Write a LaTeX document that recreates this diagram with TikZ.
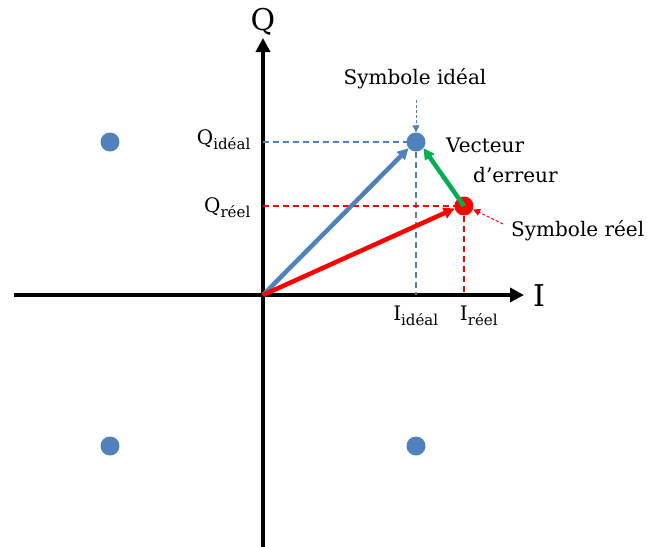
\documentclass[tikz,border=0pt]{standalone}
\usepackage{fontspec}
\setmainfont{DejaVu Serif}
\usetikzlibrary{arrows.meta}
\definecolor{ublue}{RGB}{79,129,189}
\definecolor{ured}{RGB}{255,0,0}
\definecolor{ugreen}{RGB}{0,176,80}
\tikzset{
  axis/.style={line width=4pt,-{Triangle[length=14pt,width=14pt]}},
  vec/.style={line width=4.5pt,-{Triangle[length=11pt,width=11pt]}},
  guide/.style={line width=1.3pt,dash pattern=on 6pt off 4pt},
  pointer/.style={line width=1pt,dash pattern=on 3pt off 2pt,-{Triangle[length=7pt,width=7pt]}},
  dot/.style={circle,inner sep=0pt,minimum size=19pt},
  lbl/.style={font=\fontsize{20}{22}\selectfont,inner sep=0pt},
  big/.style={font=\fontsize{30}{32}\selectfont,inner sep=0pt}
}
\newcommand{\subtxt}[1]{\textsubscript{\fontsize{15}{17}\selectfont #1}}
\begin{document}
\begin{tikzpicture}[x=1pt,y=-1pt]
\useasboundingbox (0,0) rectangle (649,547);
% axes
\coordinate (O) at (263,295);
\coordinate (xl) at (14,295);
\coordinate (xr) at (524,295);
\coordinate (yb) at (263,547);
\coordinate (yt) at (263,38);
\draw[axis] (xl) -- (xr);
\draw[axis] (yb) -- (yt);
\node[big] (Qlab) at (263,22) {Q};
\node[big] (Ilab) at (539,296) {I};
% dots
\node[dot,fill=ublue] (ideal) at (416,142) {};
\node[dot,fill=ured] (reel) at (464,206) {};
\node[dot,fill=ublue] (d1) at (110,142) {};
\node[dot,fill=ublue] (d2) at (110,446) {};
\node[dot,fill=ublue] (d3) at (416,446) {};
% guides
\coordinate (qi) at (263,142);
\coordinate (qr) at (263,206);
\coordinate (ii) at (416,295);
\coordinate (ir) at (464,295);
\draw[guide,ublue] (qi) -- (ideal.center);
\draw[guide,ublue] (ideal.center) -- (ii);
\draw[guide,ured] (qr) -- (reel.center);
\draw[guide,ured] (reel.center) -- (ir);
% vectors
\draw[vec,ublue] (O) -- (ideal.220);
\draw[vec,ured] (O) -- (reel.195);
\draw[vec,ugreen] (reel.center) -- (ideal.-40);
% labels
\node[lbl,anchor=east] (Qi) at (251,140) {Q\subtxt{idéal}};
\node[lbl,anchor=east] (Qr) at (251,208) {Q\subtxt{réel}};
\node[lbl] (Ii) at (416,316) {I\subtxt{idéal}};
\node[lbl] (Ir) at (479,316) {I\subtxt{réel}};
\node[lbl] (si) at (415,79) {Symbole idéal};
\node[lbl,anchor=west] (sr) at (511,231) {Symbole réel};
\node[lbl,anchor=west] (v1) at (446,145) {Vecteur};
\node[lbl,anchor=west] (v2) at (473,175) {d’erreur};
% pointers
\coordinate (pi) at (416,100);
\coordinate (pr) at (503,224);
\draw[pointer,ublue] (pi) -- (ideal.north);
\draw[pointer,ured] (pr) -- (reel.-20);
\end{tikzpicture}
\end{document}
